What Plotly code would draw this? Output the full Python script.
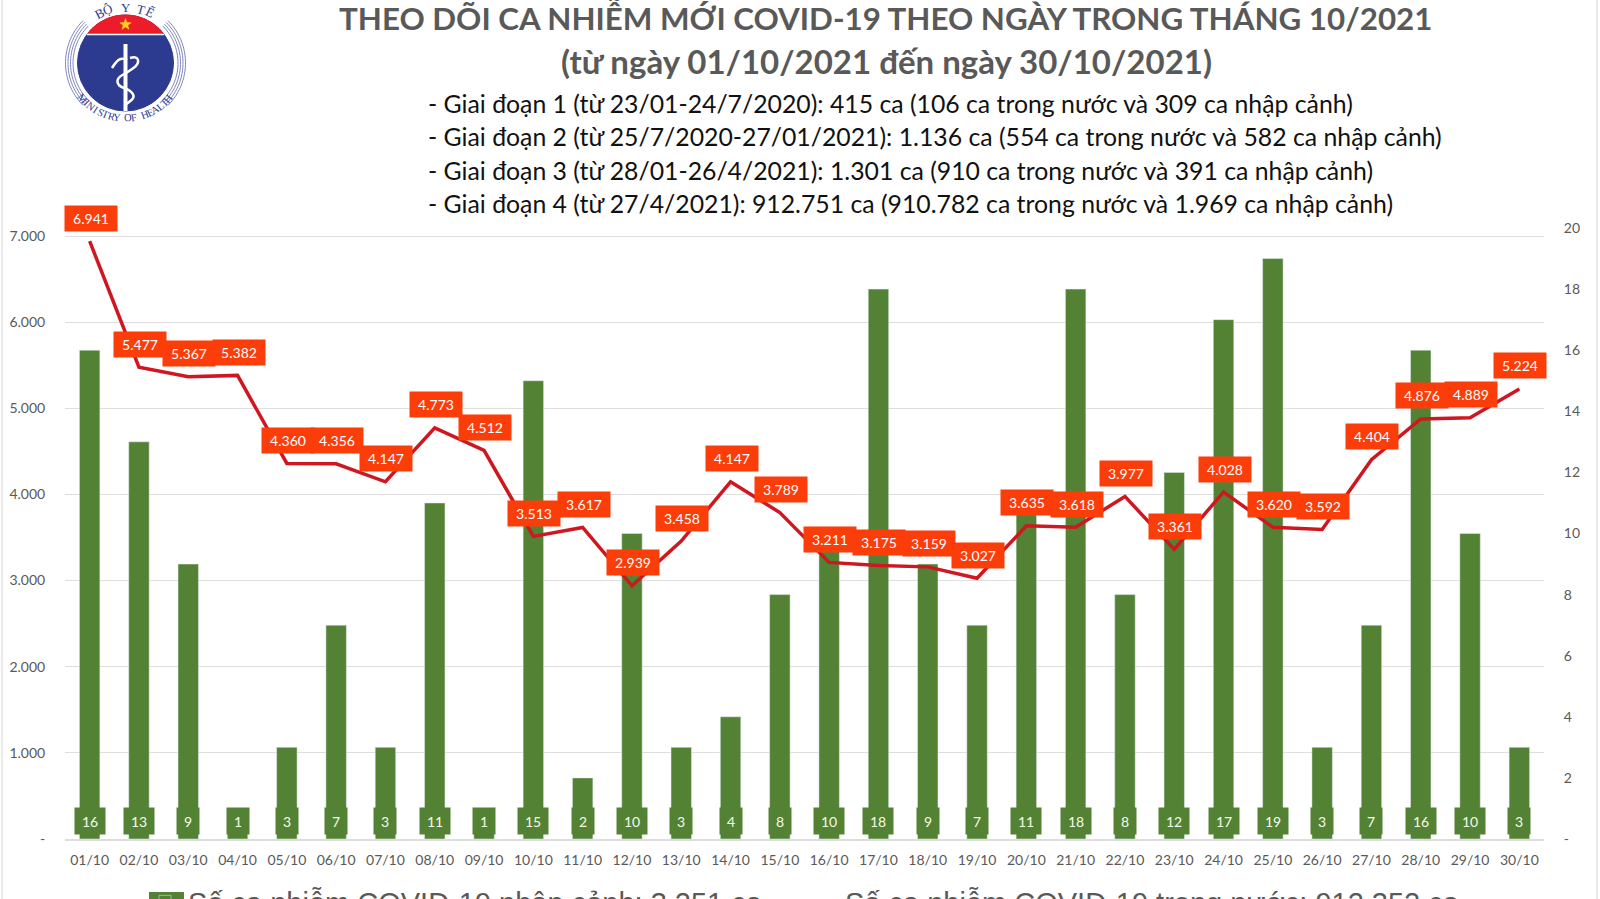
import numpy as np
import plotly.graph_objects as go

# ---------- data ----------
dates = ["01/10","02/10","03/10","04/10","05/10","06/10","07/10","08/10","09/10","10/10",
         "11/10","12/10","13/10","14/10","15/10","16/10","17/10","18/10","19/10","20/10",
         "21/10","22/10","23/10","24/10","25/10","26/10","27/10","28/10","29/10","30/10"]
imported = [16,13,9,1,3,7,3,11,1,15,2,10,3,4,8,10,18,9,7,11,18,8,12,17,19,3,7,16,10,3]
domestic = [6941,5477,5367,5382,4360,4356,4147,4773,4512,3513,3617,2939,3458,4147,3789,
            3211,3175,3159,3027,3635,3618,3977,3361,4028,3620,3592,4404,4876,4889,5224]
left_ticks = [0,1000,2000,3000,4000,5000,6000,7000]
left_labels = ["-","1.000","2.000","3.000","4.000","5.000","6.000","7.000"]
right_ticks = [0,2,4,6,8,10,12,14,16,18,20]
right_labels = ["-","2","4","6","8","10","12","14","16","18","20"]
series_imported = "Số ca nhiễm COVID-19 nhập cảnh: 3.251 ca"
series_domestic = "Số ca nhiễm COVID-19 trong nước: 912.352 ca"
title_lines = ["THEO DÕI CA NHIỄM MỚI COVID-19 THEO NGÀY TRONG THÁNG 10/2021",
               "(từ ngày 01/10/2021 đến ngày 30/10/2021)"]
stage_lines = ["- Giai đoạn 1 (từ 23/01-24/7/2020): 415 ca (106 ca trong nước và 309 ca nhập cảnh)",
               "- Giai đoạn 2 (từ 25/7/2020-27/01/2021): 1.136 ca (554 ca trong nước và 582 ca nhập cảnh)",
               "- Giai đoạn 3 (từ 28/01-26/4/2021): 1.301 ca (910 ca trong nước và 391 ca nhập cảnh)",
               "- Giai đoạn 4 (từ 27/4/2021): 912.751 ca (910.782 ca trong nước và 1.969 ca nhập cảnh)"]

# ---------- layout geometry ----------
W, H = 1600, 899
L, R, T, B = 65, 1544, 228, 839
FONT = "Lato, 'Open Sans', sans-serif"
GRAY = "#595959"
GREEN = "#548235"
ORANGE = "#FB3D0A"
LINE = "#CF1720"

def px(x): return (x - L) / (R - L)
def py(y): return (B - y) / (B - T)

def poly(points, close=True):
    s = "M " + " L ".join(f"{px(x):.5f},{py(y):.5f}" for x, y in points)
    return s + (" Z" if close else "")

fig = go.Figure()
fig.add_bar(x=dates, y=imported, name=series_imported, marker_color=GREEN, yaxis="y", width=0.415)
fig.add_scatter(x=dates, y=domestic, name=series_domestic, mode="lines", yaxis="y2",
                line=dict(color=LINE, width=3.5))

ann = []
for d, v in zip(dates, domestic):
    ann.append(dict(x=d, y=v, xref="x", yref="y2", yshift=23, xshift=1, text=f"{v:,}".replace(",", "."),
                    showarrow=False, bgcolor=ORANGE, width=52, height=25, borderpad=0,
                    font=dict(family=FONT, size=14, color="white")))
for d, v in zip(dates, imported):
    ann.append(dict(x=d, y=0, xref="x", yref="y", yshift=18, text=str(v), showarrow=False,
                    bgcolor=GREEN, width=30 if v >= 10 else 22, height=26, borderpad=0,
                    font=dict(family=FONT, size=14, color="#F4FBE8")))

def text_px(x, y, text, size, color, bold=False, anchor="center", family=FONT, angle=0):
    ann.append(dict(x=px(x), y=py(y), xref="paper", yref="paper", text=f"<b>{text}</b>" if bold else text,
                    showarrow=False, xanchor=anchor, yanchor="middle", textangle=angle,
                    font=dict(family=family, size=size, color=color)))

text_px(885, 17, title_lines[0], 31.3, GRAY, bold=True)
text_px(886, 61, title_lines[1], 33, GRAY, bold=True)
for line, y in zip(stage_lines, [103.5, 137, 170, 203]):
    text_px(426, y, line, 24.8, "#111111", anchor="left")

# ---------- logo (decorative) ----------
shapes = []
cx, cy, r = 125.5, 63, 48
shapes.append(dict(type="circle", xref="paper", yref="paper", x0=px(cx-r), x1=px(cx+r), y0=py(cy-r), y1=py(cy+r),
                   fillcolor="#2C3A8F", line=dict(color="#2C3A8F", width=1)))
cap = [(cx + r*np.cos(t), cy - r*np.sin(t)) for t in np.linspace(np.arcsin(29/r), np.pi-np.arcsin(29/r), 40)]
shapes.append(dict(type="path", xref="paper", yref="paper", path=poly(cap), fillcolor="#EC1C2A",
                   line=dict(color="#EC1C2A", width=1)))
shapes.append(dict(type="line", xref="paper", yref="paper", x0=px(87), x1=px(164), y0=py(34.5), y1=py(34.5),
                   line=dict(color="white", width=1.5)))
star = [(cx + (6 if i % 2 == 0 else 2.4)*np.sin(i*np.pi/5), 24.5 - (6 if i % 2 == 0 else 2.4)*np.cos(i*np.pi/5)) for i in range(10)]
shapes.append(dict(type="path", xref="paper", yref="paper", path=poly(star), fillcolor="#FFD21F",
                   line=dict(color="#FFD21F", width=0.5)))
shapes.append(dict(type="line", xref="paper", yref="paper", x0=px(cx), x1=px(cx), y0=py(44), y1=py(111),
                   line=dict(color="white", width=4)))
snake = [(137,56),(139,64),(128,72),(117,78),(118,86),(130,90),(135,97),(128,103),(122,107)]
head = [(112,68),(117,60),(124,58),(130,62)]
def smooth(pts):
    s = f"M {px(pts[0][0]):.5f},{py(pts[0][1]):.5f}"
    for i in range(1, len(pts)-1):
        mx, my = (pts[i][0]+pts[i+1][0])/2, (pts[i][1]+pts[i+1][1])/2
        s += f" Q {px(pts[i][0]):.5f},{py(pts[i][1]):.5f} {px(mx):.5f},{py(my):.5f}"
    return s
shapes.append(dict(type="path", xref="paper", yref="paper", path=smooth([(130,58)]+snake), line=dict(color="white", width=2.5)))
shapes.append(dict(type="path", xref="paper", yref="paper", path=smooth(head), line=dict(color="white", width=2.5)))
for rr in [52.5, 55, 57.5, 60]:
    for side in (0, 1):
        span = np.radians(np.linspace(-45, 45, 30))
        pts = [(cx + (rr*np.cos(t) if side else -rr*np.cos(t)), cy + rr*np.sin(t)) for t in span]
        shapes.append(dict(type="path", xref="paper", yref="paper", path=poly(pts, close=False),
                           line=dict(color="#6F78B5", width=0.9)))
for ch, deg in zip("BỘ Y TẾ", [-27, -18, -8, 0, 7, 16, 26]):
    t = np.radians(deg)
    text_px(cx + 57*np.sin(t), cy - 56*np.cos(t), ch, 13, "#2C3A8F", family="'Liberation Serif', serif", angle=deg)
bottom = "MINISTRY OF HEALTH"
for i, ch in enumerate(bottom):
    deg = 50 - i*(100/(len(bottom)-1))
    t = np.radians(deg)
    text_px(cx - 56*np.sin(t), cy + 55*np.cos(t), ch, 10.5, "#2C3A8F", family="'Liberation Serif', serif", angle=deg)

# page edges
for ex in (2, 1597):
    shapes.append(dict(type="line", xref="paper", yref="paper", x0=px(ex), x1=px(ex), y0=py(0), y1=py(H),
                       line=dict(color="#E3E3E3", width=1.5)))
# broad legend swatch, as in the reference
shapes.append(dict(type="rect", xref="paper", yref="paper", x0=px(149), x1=px(184), y0=py(892), y1=py(910),
                   fillcolor=GREEN, line=dict(width=0)))

fig.update_layout(
    width=W, height=H, autosize=False, paper_bgcolor="white", plot_bgcolor="white",
    margin=dict(l=L, r=W-R, t=T, b=H-B, pad=0, autoexpand=False),
    bargap=0.585, annotations=ann, shapes=shapes,
    font=dict(family=FONT, color=GRAY),
    xaxis=dict(type="category", range=[-0.5, 29.5], tickfont=dict(size=14, color=GRAY), ticks="outside",
               ticklen=7, tickcolor="rgba(0,0,0,0)", showgrid=False, showline=True, linecolor="#DDDDDD",
               linewidth=2, zeroline=False, automargin=False),
    yaxis=dict(side="right", range=[0, 20], tickvals=right_ticks, ticktext=right_labels, showgrid=False,
               zeroline=False, ticks="outside", ticklen=16, tickcolor="rgba(0,0,0,0)",
               tickfont=dict(size=14, color=GRAY), automargin=False),
    yaxis2=dict(side="left", overlaying="y", range=[0, 7000*611/603], tickvals=left_ticks, ticktext=left_labels,
                showgrid=True, gridcolor="#DEDEDE", gridwidth=1, zeroline=False, ticks="outside", ticklen=16,
                tickcolor="rgba(0,0,0,0)", tickfont=dict(size=14, color=GRAY), automargin=False),
    showlegend=True,
    legend=dict(orientation="h", x=px(142), xanchor="left", y=py(876), yanchor="top", itemwidth=36,
                entrywidth=606, entrywidthmode="pixels", traceorder="normal", bgcolor="rgba(0,0,0,0)",
                font=dict(family="'Liberation Sans', Arial, sans-serif", size=29, color=GRAY)),
)
fig.write_html("out.html", config=dict(displayModeBar=False),
               post_script="document.body.style.margin='0';document.documentElement.style.overflow='hidden';")
